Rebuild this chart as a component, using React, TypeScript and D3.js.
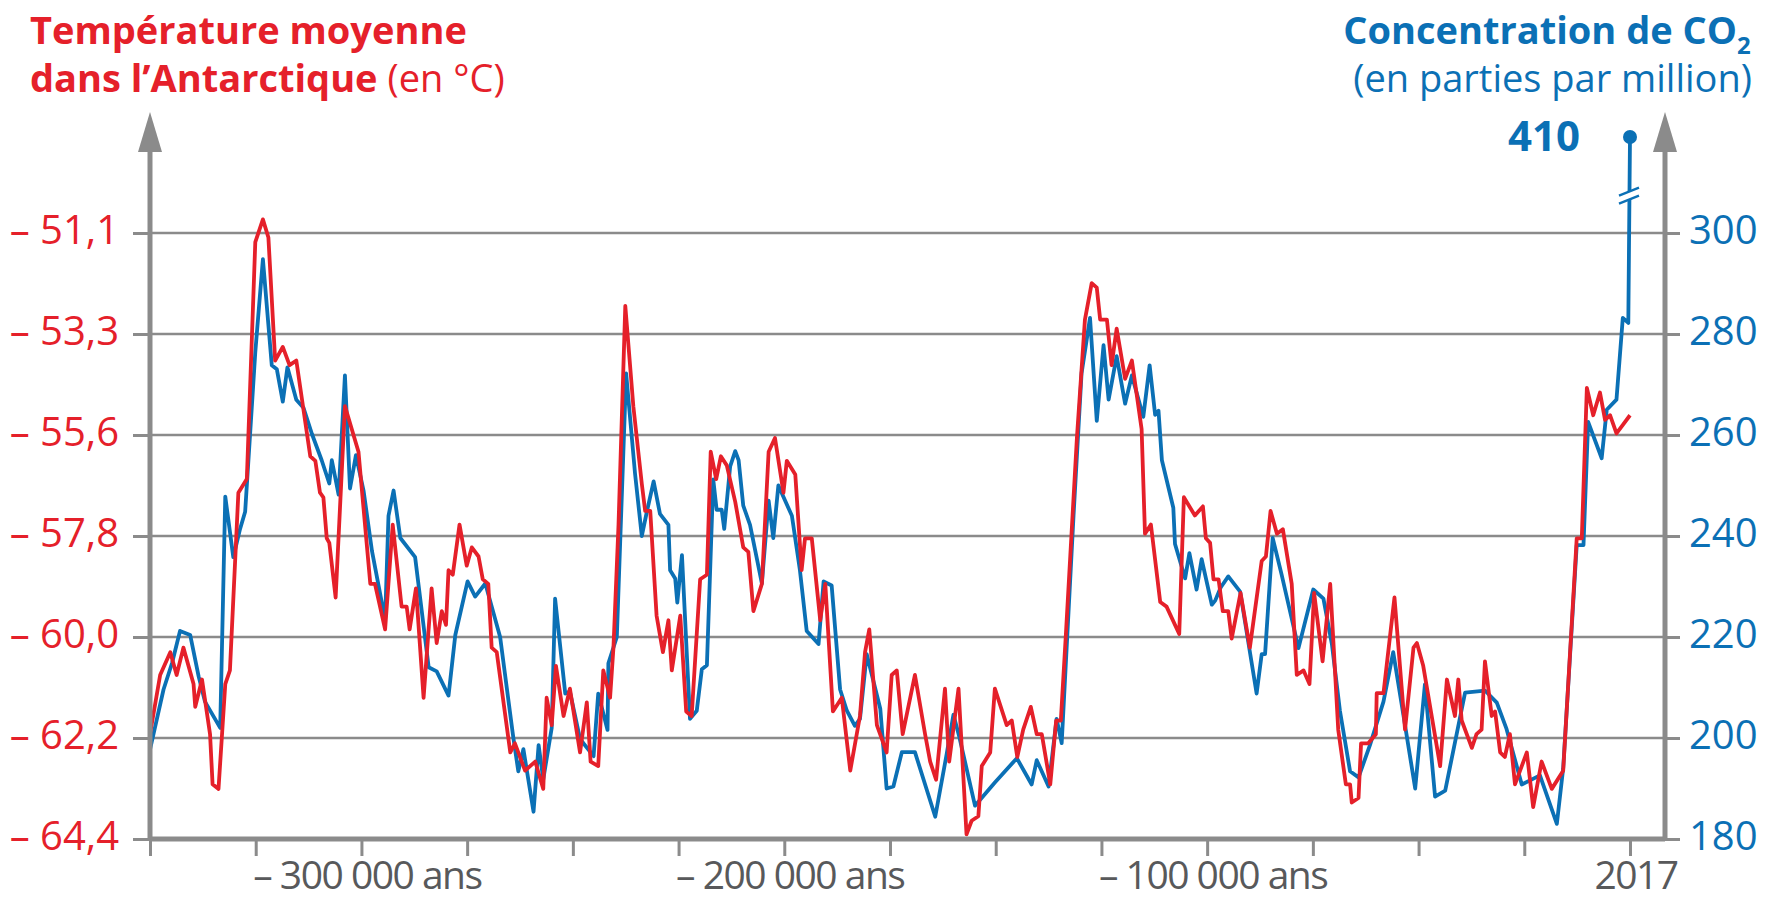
import React, { useRef, useEffect } from 'react';
import * as d3 from 'd3';

// Antarctic mean temperature (°C), [year, value]
const temperature: [number, number][] = [
    [-350000, -62.1], [-347600, -60.8], [-345200, -60.3], [-343700, -60.8], [-342100, -60.2],
    [-339700, -61.0], [-339300, -61.5], [-337700, -60.9], [-335800, -62.1], [-335200, -63.2],
    [-333800, -63.3], [-332200, -61.0], [-331100, -60.7], [-329100, -56.8], [-327100, -56.5],
    [-325100, -51.3], [-323300, -50.8], [-322000, -51.2], [-320400, -53.9], [-318600, -53.6],
    [-317000, -54.0], [-315400, -53.9], [-312100, -56.0], [-310900, -56.1], [-309800, -56.8],
    [-309000, -56.9], [-308200, -57.8], [-307600, -57.9], [-306100, -59.1], [-303900, -54.9],
    [-300700, -55.9], [-297900, -58.8], [-296800, -58.8], [-294400, -59.8], [-292600, -57.5],
    [-290500, -59.3], [-289300, -59.3], [-288600, -59.8], [-287100, -58.9], [-285300, -61.3],
    [-283400, -58.9], [-282200, -60.1], [-281000, -59.4], [-280000, -59.7], [-279400, -58.5],
    [-278400, -58.6], [-276800, -57.5], [-275100, -58.4], [-273900, -58.0], [-272300, -58.2],
    [-271300, -58.7], [-270000, -58.8], [-269200, -60.2], [-268000, -60.3], [-264800, -62.5],
    [-263700, -62.3], [-261300, -62.9], [-258900, -62.7], [-257000, -63.3], [-256200, -61.3],
    [-255000, -61.9], [-254000, -60.6], [-252200, -61.7], [-250700, -61.1], [-248300, -62.5],
    [-246700, -61.4], [-245800, -62.7], [-244000, -62.8], [-242800, -60.7], [-241200, -61.3],
    [-240400, -60.2], [-239200, -57.5], [-237600, -52.7], [-235700, -54.9], [-233700, -56.6],
    [-232900, -57.2], [-231700, -57.2], [-230200, -59.5], [-228700, -60.3], [-227400, -59.6],
    [-226600, -60.7], [-224600, -59.5], [-223200, -61.6], [-221900, -61.7], [-219900, -58.7],
    [-218300, -58.6], [-217400, -55.9], [-216100, -56.5], [-215000, -56.0], [-213600, -56.2],
    [-211600, -57.0], [-209700, -58.0], [-208500, -58.1], [-207300, -59.4], [-205300, -58.8],
    [-203700, -55.9], [-202200, -55.6], [-200200, -56.8], [-199400, -56.1], [-197400, -56.4],
    [-195900, -58.5], [-195100, -57.8], [-193500, -57.8], [-191500, -59.6], [-190300, -58.8],
    [-188500, -61.6], [-186400, -61.3], [-184400, -62.9], [-182100, -61.7], [-180900, -60.3],
    [-179900, -59.8], [-178100, -61.9], [-175800, -62.5], [-174600, -60.8], [-173400, -60.7],
    [-172000, -62.1], [-169100, -60.8], [-166700, -62.1], [-165500, -62.7], [-164100, -63.1],
    [-162000, -61.1], [-161000, -62.7], [-158800, -61.1], [-156900, -64.3], [-155700, -64.0],
    [-154100, -63.9], [-153300, -62.8], [-151300, -62.5], [-150200, -61.1], [-147400, -61.9],
    [-146200, -61.8], [-144900, -62.6], [-143500, -62.0], [-141700, -61.5], [-140300, -62.1],
    [-139100, -62.1], [-137100, -63.2], [-135700, -61.8], [-134600, -61.8], [-133400, -59.9],
    [-130800, -55.6], [-128900, -53.0], [-127300, -52.2], [-126100, -52.3], [-125300, -53.0],
    [-123700, -53.0], [-122600, -54.0], [-121400, -53.2], [-119400, -54.3], [-117800, -53.9],
    [-115500, -55.4], [-114700, -57.7], [-113300, -57.5], [-111100, -59.2], [-109600, -59.3],
    [-106600, -59.9], [-105500, -56.9], [-102900, -57.3], [-101000, -57.1], [-100300, -57.8],
    [-99300, -57.9], [-98500, -58.7], [-97300, -58.7], [-96300, -59.4], [-95000, -59.4],
    [-94200, -60.0], [-92100, -59.0], [-89900, -60.2], [-87100, -58.3], [-86100, -58.2],
    [-85000, -57.2], [-83500, -57.7], [-82100, -57.6], [-80000, -58.8], [-78800, -60.8],
    [-77200, -60.7], [-75800, -61.0], [-74700, -59.0], [-72700, -60.5], [-70900, -58.8],
    [-69000, -62.0], [-67200, -63.2], [-66200, -63.2], [-65800, -63.6], [-64200, -63.5],
    [-63600, -62.3], [-61900, -62.3], [-60100, -62.1], [-59900, -61.2], [-58300, -61.2],
    [-55700, -59.1], [-53200, -62.0], [-51200, -60.2], [-50400, -60.1], [-48900, -60.6],
    [-44900, -62.8], [-43300, -60.9], [-41400, -61.7], [-40600, -60.9], [-39800, -61.8],
    [-37400, -62.4], [-36300, -62.1], [-35100, -62.0], [-34300, -60.5], [-32700, -61.7],
    [-31900, -61.6], [-30700, -62.5], [-29600, -62.6], [-28400, -62.1], [-27200, -63.2],
    [-24400, -62.5], [-22900, -63.7], [-20900, -62.7], [-18500, -63.3], [-15800, -62.9],
    [-12600, -57.8], [-11400, -57.8], [-10200, -54.5], [-8700, -55.1], [-7100, -54.6],
    [-5900, -55.2], [-4700, -55.1], [-3200, -55.5], [-1600, -55.3], [0, -55.1],
];

// CO2 concentration (ppm), [year, value]
const co2: [number, number][] = [
    [-350000, 197.7], [-346800, 209.6], [-344800, 214.8], [-342900, 221.2], [-340500, 220.4],
    [-338500, 212.2], [-337000, 207.2], [-333400, 202.0], [-332200, 247.8], [-330300, 235.8],
    [-328700, 241.4], [-327500, 244.8], [-325100, 276.4], [-323300, 294.8], [-321200, 273.8],
    [-320000, 273.0], [-318600, 266.6], [-317500, 273.4], [-315400, 267.0], [-313700, 265.4],
    [-311700, 260.2], [-309400, 255.0], [-307600, 250.4], [-307000, 255.0], [-305400, 248.2],
    [-303900, 271.8], [-302700, 249.4], [-301300, 256.0], [-299500, 249.0], [-297500, 237.0],
    [-294400, 223.4], [-293600, 244.0], [-292400, 249.0], [-290800, 239.6], [-287300, 235.8],
    [-284100, 214.0], [-282200, 213.2], [-279400, 208.4], [-277800, 220.4], [-274900, 231.0],
    [-273100, 228.0], [-270700, 230.6], [-267200, 220.0], [-264100, 200.2], [-262900, 193.4],
    [-261700, 197.8], [-259300, 185.4], [-258100, 198.6], [-257000, 191.8], [-255000, 202.0],
    [-254200, 227.6], [-251800, 208.8], [-250700, 209.2], [-248300, 199.8], [-245100, 196.4],
    [-244000, 208.8], [-241800, 201.6], [-241600, 214.8], [-239600, 220.0], [-237400, 272.2],
    [-235300, 252.4], [-233700, 240.0], [-232500, 244.8], [-230900, 250.8], [-229400, 244.4],
    [-227400, 242.2], [-227000, 233.2], [-225800, 231.6], [-225300, 226.8], [-224200, 236.2],
    [-222300, 203.8], [-220700, 205.4], [-219500, 213.6], [-218300, 214.4], [-216800, 251.2],
    [-216000, 245.2], [-214800, 245.2], [-214200, 241.4], [-212800, 253.8], [-211600, 256.8],
    [-210800, 255.0], [-209700, 246.0], [-208100, 242.2], [-205300, 230.6], [-203700, 247.0],
    [-202600, 239.6], [-201400, 250.0], [-198200, 244.0], [-196300, 233.2], [-194700, 221.2],
    [-191900, 218.6], [-190700, 231.0], [-188800, 230.2], [-186800, 209.6], [-185200, 205.4],
    [-183300, 202.4], [-182100, 203.8], [-180500, 216.6], [-177300, 205.8], [-175800, 190.0],
    [-174200, 190.4], [-172200, 197.2], [-169100, 197.2], [-164300, 184.4], [-161600, 196.8],
    [-160000, 204.6], [-158600, 200.2], [-154900, 186.6], [-150200, 191.2], [-145000, 196.0],
    [-141500, 190.8], [-140300, 195.6], [-137500, 190.4], [-135600, 203.8], [-134400, 199.0],
    [-131600, 244.0], [-129700, 272.2], [-127700, 283.2], [-126100, 262.8], [-124500, 277.8],
    [-123300, 267.0], [-121400, 275.6], [-119400, 266.2], [-117800, 271.8], [-115100, 263.6],
    [-113600, 273.8], [-112300, 264.0], [-111500, 264.8], [-110700, 255.0], [-108000, 245.6],
    [-107600, 238.4], [-105200, 231.6], [-104200, 236.6], [-102500, 229.4], [-101300, 235.4],
    [-98900, 226.4], [-98100, 227.2], [-96800, 229.8], [-95000, 232.0], [-92200, 229.0],
    [-88300, 208.8], [-87100, 216.6], [-86300, 216.6], [-84500, 239.6], [-82400, 232.4],
    [-78400, 217.8], [-74900, 229.4], [-72500, 227.6], [-70500, 218.6], [-68600, 205.4],
    [-66200, 193.4], [-64200, 192.2], [-61500, 198.6], [-58300, 207.2], [-56000, 217.0],
    [-53600, 204.6], [-50800, 190.0], [-48500, 210.6], [-46100, 188.4], [-43700, 189.6],
    [-39000, 209.0], [-34300, 209.4], [-31500, 207.0], [-29200, 201.8], [-25600, 190.8],
    [-21300, 192.6], [-17300, 183.0], [-15800, 194.0], [-12600, 238.2], [-11000, 238.2],
    [-9900, 262.6], [-6700, 255.4], [-5500, 265.0], [-3200, 267.0], [-1700, 283.2],
    [-400, 282.2], [0, 410],
];

const co2Ticks = [180, 200, 220, 240, 260, 280, 300];
const tempTickLabels = ['– 64,4', '– 62,2', '– 60,0', '– 57,8', '– 55,6', '– 53,3', '– 51,1'];
const yearTicks = [
    -350000, -325000, -300000, -275000, -250000, -225000, -200000, -175000,
    -150000, -125000, -100000, -75000, -50000, -25000, 0,
];
const yearLabelValues = [-300000, -200000, -100000, 0];
const yearLabelTexts = ['– 300 000 ans', '– 200 000 ans', '– 100 000 ans', '2017'];

const RED = '#e5202a';
const BLUE = '#0b70b5';
const GREY = '#8b8b8b';
const FONT = '"Open Sans", "Noto Sans", sans-serif';

const App: React.FC = () => {
    const svgRef = useRef<SVGSVGElement | null>(null);

    useEffect(() => {
        if (!svgRef.current) return;

        const left = 150;
        const right = 1665;
        const top = 233;
        const bottom = 839;

        const x = d3.scaleLinear().domain([-350000, 0]).range([left, 1630]);
        // broken scale above 300 ppm for the present-day value
        const yCo2 = d3.scaleLinear().domain([180, 300, 410]).range([bottom, top, 137]);
        const yTemp = d3.scaleLinear().domain([-64.4, -51.1]).range([bottom, top]);
        const tempTickValues = tempTickLabels.map((_, i) => -64.4 + (i * 13.3) / 6);

        const svg = d3.select(svgRef.current);
        svg.selectAll('*').remove();

        // Gridlines
        svg.append('g')
            .selectAll('line')
            .data(co2Ticks.filter(v => v > 180))
            .join('line')
            .attr('x1', left)
            .attr('x2', right)
            .attr('y1', d => yCo2(d))
            .attr('y2', d => yCo2(d))
            .attr('stroke', GREY)
            .attr('stroke-width', 2.6);

        // Series
        const co2Line = d3.line<[number, number]>().x(d => x(d[0])).y(d => yCo2(d[1]));
        const tempLine = d3.line<[number, number]>().x(d => x(d[0])).y(d => yTemp(d[1]));

        svg.append('path')
            .datum(co2)
            .attr('d', co2Line)
            .attr('fill', 'none')
            .attr('stroke', BLUE)
            .attr('stroke-width', 3.8)
            .attr('stroke-linejoin', 'round');

        svg.append('path')
            .datum(temperature)
            .attr('d', tempLine)
            .attr('fill', 'none')
            .attr('stroke', RED)
            .attr('stroke-width', 3.8)
            .attr('stroke-linejoin', 'round');

        // Axis break on the CO2 line
        const bx = x(0);
        const by = yCo2(345);
        svg.append('polygon')
            .attr('points', `${bx - 11},${by + 2} ${bx + 9},${by - 6} ${bx + 9},${by + 2} ${bx - 11},${by + 10}`)
            .attr('fill', '#fff');
        [0, 8].forEach(o => {
            svg.append('line')
                .attr('x1', bx - 11).attr('y1', by + 2 + o)
                .attr('x2', bx + 9).attr('y2', by - 6 + o)
                .attr('stroke', BLUE)
                .attr('stroke-width', 2.4);
        });

        const last = co2[co2.length - 1];
        svg.append('circle')
            .attr('cx', x(last[0]))
            .attr('cy', yCo2(last[1]))
            .attr('r', 7)
            .attr('fill', BLUE);
        svg.append('text')
            .attr('x', x(last[0]) - 50)
            .attr('y', yCo2(last[1]) + 14)
            .attr('text-anchor', 'end')
            .attr('font-family', FONT)
            .attr('font-weight', 700)
            .attr('font-size', 42)
            .attr('fill', BLUE)
            .text(String(last[1]));

        // Left axis (temperature)
        const leftAxis = svg.append('g')
            .attr('transform', `translate(${left},0)`)
            .call(
                d3.axisLeft(yTemp)
                    .tickValues(tempTickValues)
                    .tickFormat((_, i) => tempTickLabels[i])
                    .tickSize(17)
                    .tickPadding(14)
            );

        // Right axis (CO2)
        const rightAxis = svg.append('g')
            .attr('transform', `translate(${right},0)`)
            .call(d3.axisRight(yCo2).tickValues(co2Ticks).tickSize(15).tickPadding(9));

        // Bottom axis (years)
        const bottomAxis = svg.append('g')
            .attr('transform', `translate(0,${bottom})`)
            .call(d3.axisBottom(x).tickValues(yearTicks).tickFormat(() => '').tickSize(17));

        [leftAxis, rightAxis, bottomAxis].forEach(g => {
            g.select('.domain').remove();
            g.selectAll('.tick line').attr('stroke', GREY).attr('stroke-width', 3);
            g.selectAll('.tick text')
                .attr('font-family', FONT)
                .attr('font-size', 40)
                .attr('dy', '0.26em');
        });
        leftAxis.selectAll('.tick text').attr('fill', RED);
        rightAxis.selectAll('.tick text').attr('fill', BLUE);

        svg.append('g')
            .selectAll('text')
            .data(yearLabelValues)
            .join('text')
            .attr('x', d => x(d) + 6)
            .attr('y', 889)
            .attr('text-anchor', 'middle')
            .attr('font-family', FONT)
            .attr('font-size', 39)
            .attr('letter-spacing', -1.5)
            .attr('fill', '#58595b')
            .text((_, i) => yearLabelTexts[i]);

        // Axis lines with arrows
        svg.append('path')
            .attr('d', `M${left},${bottom} H${right} M${left},${bottom + 2} V150 M${right},${bottom + 2} V150`)
            .attr('fill', 'none')
            .attr('stroke', GREY)
            .attr('stroke-width', 5);
        [left, right].forEach(ax => {
            svg.append('polygon')
                .attr('points', `${ax},112 ${ax - 12},152 ${ax + 12},152`)
                .attr('fill', GREY);
        });

        // Titles
        svg.append('text')
            .attr('x', 30)
            .attr('y', 44)
            .attr('font-family', FONT)
            .attr('font-size', 38)
            .attr('font-weight', 700)
            .attr('fill', RED)
            .text('Température moyenne');
        const l2 = svg.append('text')
            .attr('x', 30)
            .attr('y', 92)
            .attr('font-family', FONT)
            .attr('font-size', 38)
            .attr('fill', RED);
        l2.append('tspan').attr('font-weight', 700).text('dans l’Antarctique');
        l2.append('tspan').text(' (en °C)');

        svg.append('text')
            .attr('x', 1737)
            .attr('y', 44)
            .attr('text-anchor', 'end')
            .attr('font-family', FONT)
            .attr('font-size', 38)
            .attr('font-weight', 700)
            .attr('fill', BLUE)
            .text('Concentration de CO');
        svg.append('text')
            .attr('x', 1737)
            .attr('y', 54)
            .attr('font-family', FONT)
            .attr('font-size', 24)
            .attr('font-weight', 700)
            .attr('fill', BLUE)
            .text('2');
        svg.append('text')
            .attr('x', 1752)
            .attr('y', 92)
            .attr('text-anchor', 'end')
            .attr('font-family', FONT)
            .attr('font-size', 38)
            .attr('fill', BLUE)
            .text('(en parties par million)');
    }, []);

    return (
        <svg
            ref={svgRef}
            width={1765}
            height={902}
            style={{ position: 'absolute', left: 0, top: 0, backgroundColor: '#fff' }}
        />
    );
};

export default App;
